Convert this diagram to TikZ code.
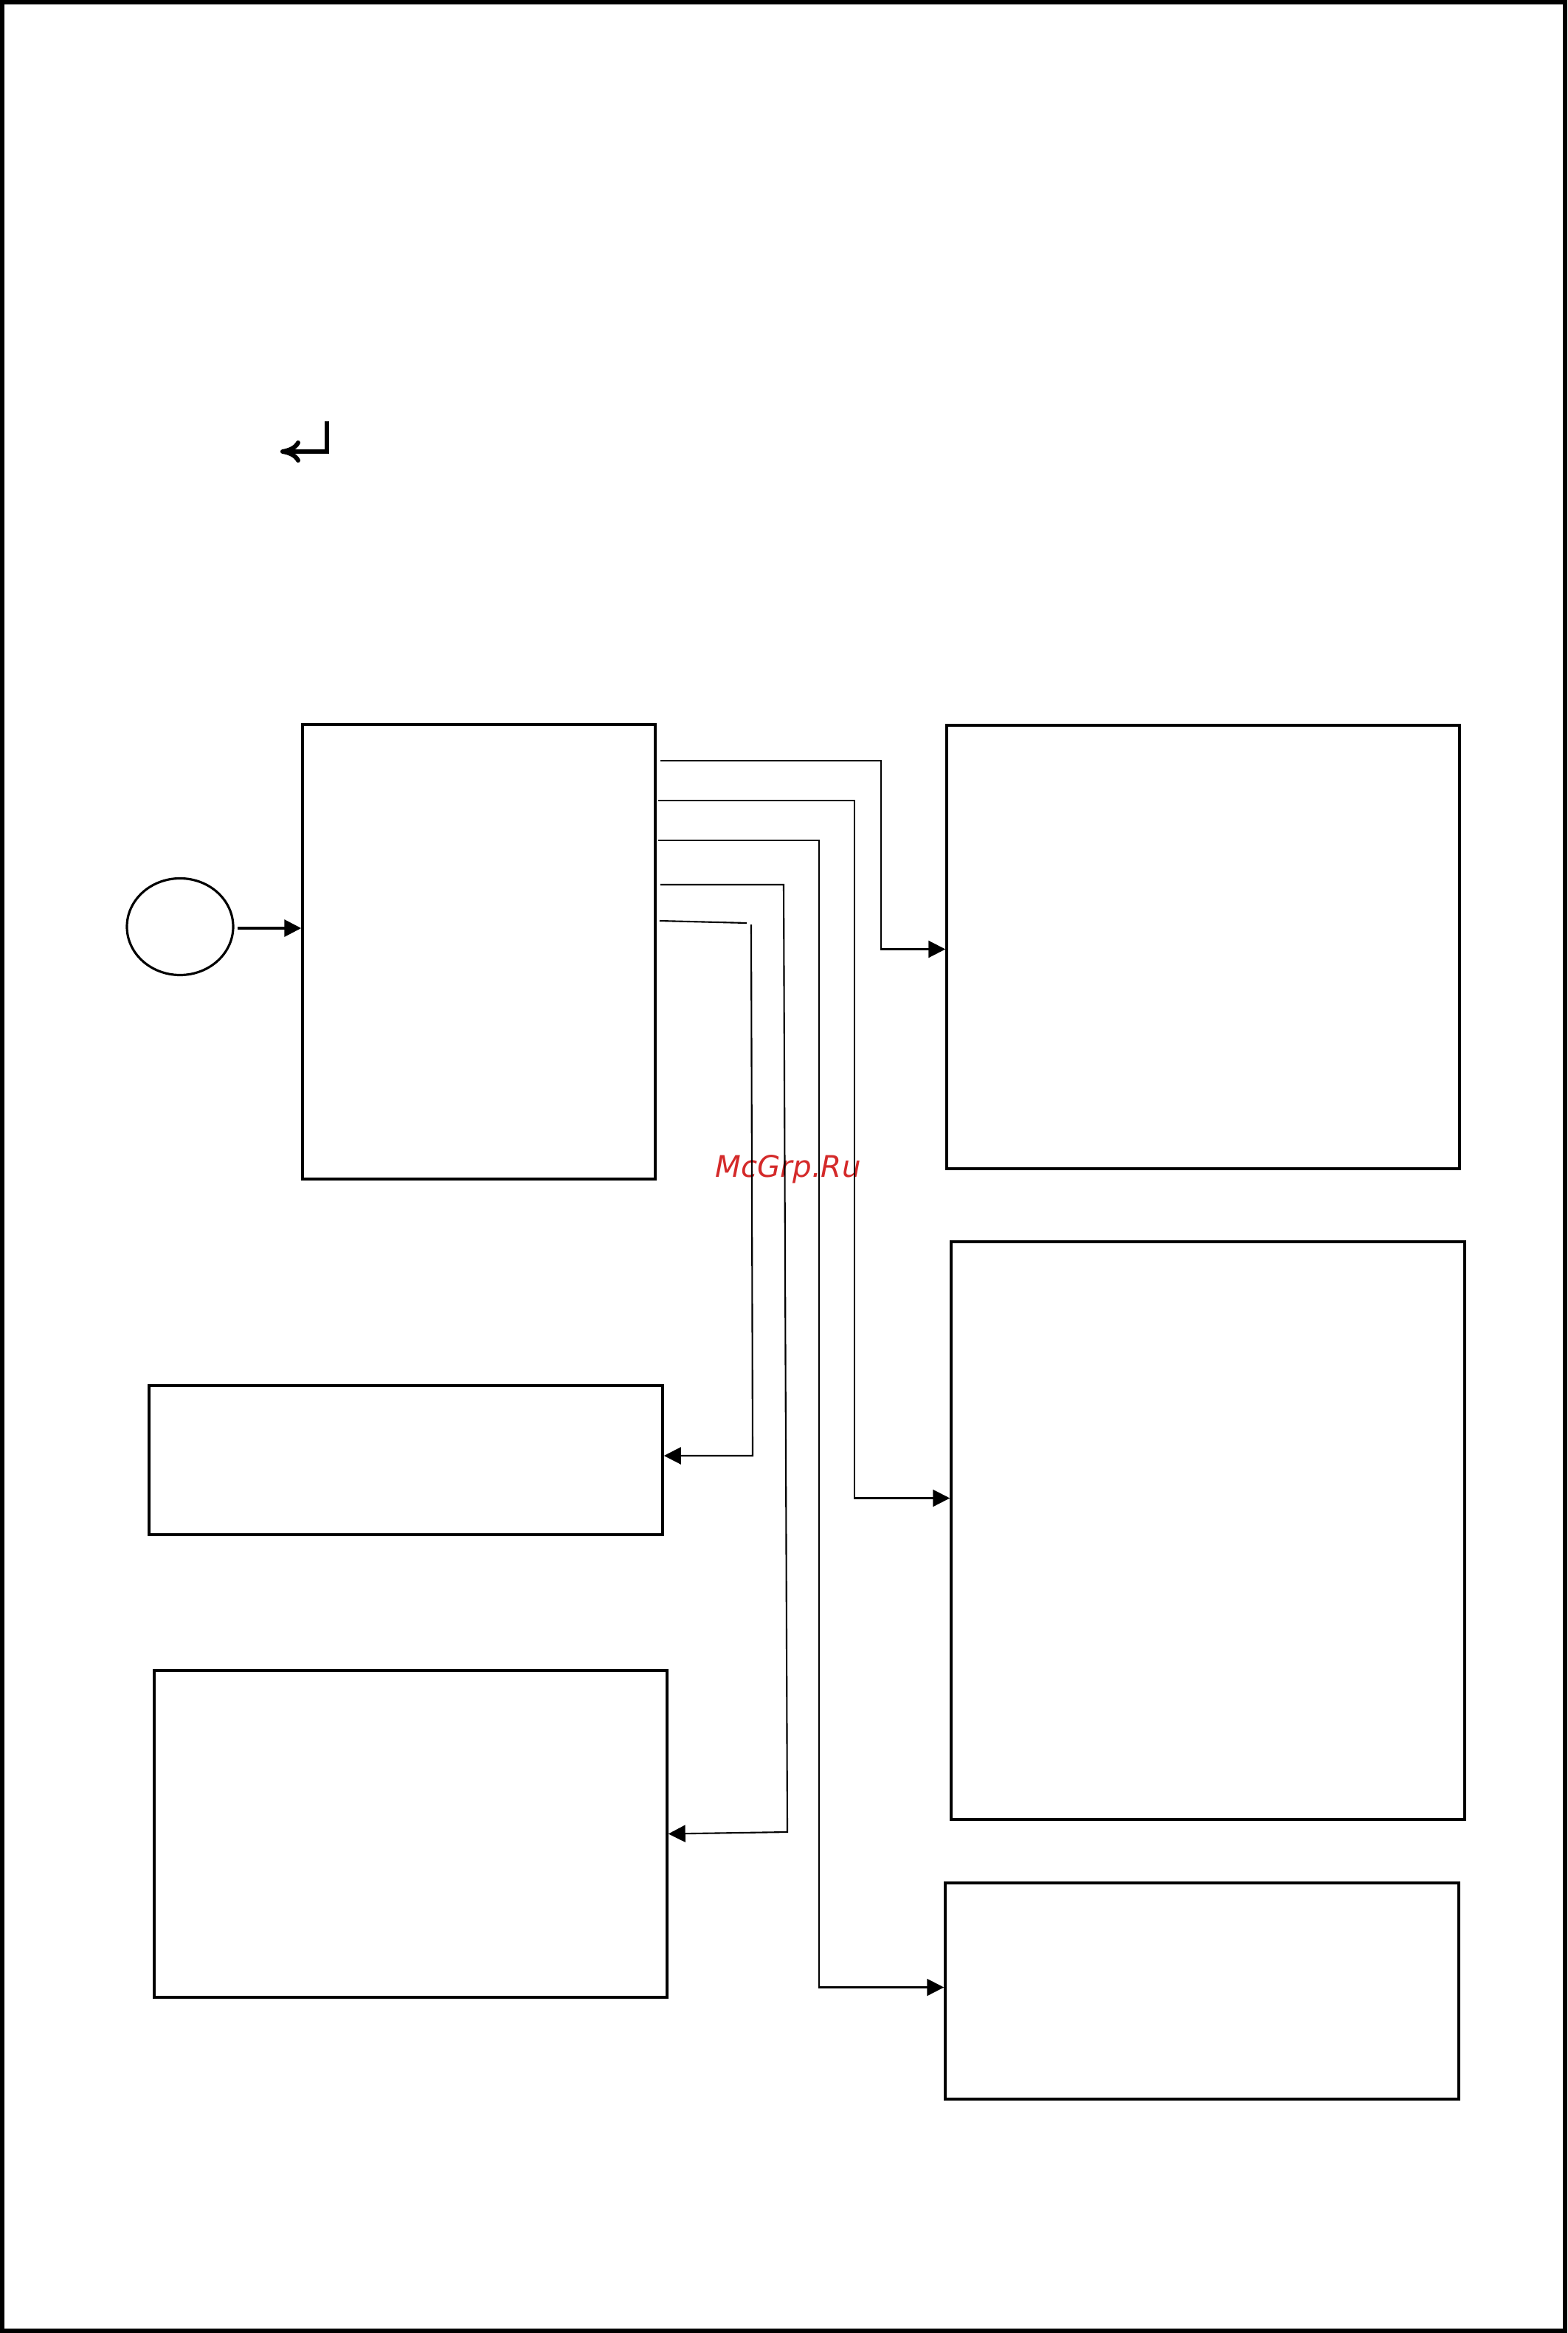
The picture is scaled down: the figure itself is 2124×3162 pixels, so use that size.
\documentclass[tikz,border=0pt]{standalone}
\usepackage{fontspec}
\usetikzlibrary{arrows.meta, positioning, calc, shapes.geometric}
\newfontfamily\symfont{DejaVu Sans}
\definecolor{inkline}{HTML}{000000}
\definecolor{markred}{HTML}{D42A2A}
\newcommand{\blockbox}[5]{%
  \node[draw=inkline, line width=1pt, minimum width=#4, minimum height=#5,
        inner sep=0pt] (#1) at (#2,#3) {};}

\begin{document}
\begin{tikzpicture}[x=0.1mm, y=-0.1mm,
    conn/.style={draw=inkline, line width=0.6pt, -{Triangle[length=2.3mm, width=2.3mm]}}]
      \useasboundingbox (0,0) rectangle (2124,3162);
      \draw[line width=0.6mm] (3,3) rectangle (2121,3159);
      \coordinate (retTop) at (443,571);
      \draw[line width=1.7pt, -{Computer Modern Rightarrow[length=2.7mm, width=3mm]}]
            (retTop) |- (380,612);
      \node[ellipse, draw=inkline, line width=0.9pt, minimum width=14.4mm,
            minimum height=13.1mm, inner sep=0pt] (src) at (244,1256) {};
      \blockbox{main}{649}{1290}{47.8mm}{61.6mm}
      \blockbox{outA}{1630.5}{1283.5}{69.5mm}{60.1mm}
      \blockbox{outB}{1637}{2074.5}{69.6mm}{78.3mm}
      \blockbox{outC}{1629}{2698.5}{69.6mm}{29.3mm}
      \blockbox{backA}{550}{1979}{69.6mm}{20.2mm}
      \blockbox{backB}{556.5}{2485.5}{69.5mm}{44.3mm}
      \node[font=\symfont\itshape\fontsize{11.5}{11.5}\selectfont, text=markred]
            (mark) at (1068,1585) {McGrp.Ru};
      \coordinate (split) at (1018,1253);
      \draw[conn, line width=0.9pt] ($(src.east)+(4,2)$) -- (main.west |- 0,1258);
      \draw[conn] ($(main.east)+(5,-259)$) -- (1194,1031) |- ($(outA.west)+(0,3)$);
      \draw[conn] ($(main.east)+(2,-205)$) -- (1158,1085) |- ($(outB.west)+(0,-44)$);
      \draw[conn] ($(main.east)+(2,-151)$) -- (1110,1139) |- ($(outC.west)+(0,-5)$);
      \draw[conn] ($(main.east)+(5,-91)$) -- (1062,1199) -- (1067,2483) -- (backB.east);
      \draw[draw=inkline, line width=0.6pt] ($(main.east)+(4,-42)$) -- (1012,1251);
      \draw[conn] (split) -- (1020,1973) -- ($(backA.east)+(0,-6)$);
    \end{tikzpicture}
\end{document}
